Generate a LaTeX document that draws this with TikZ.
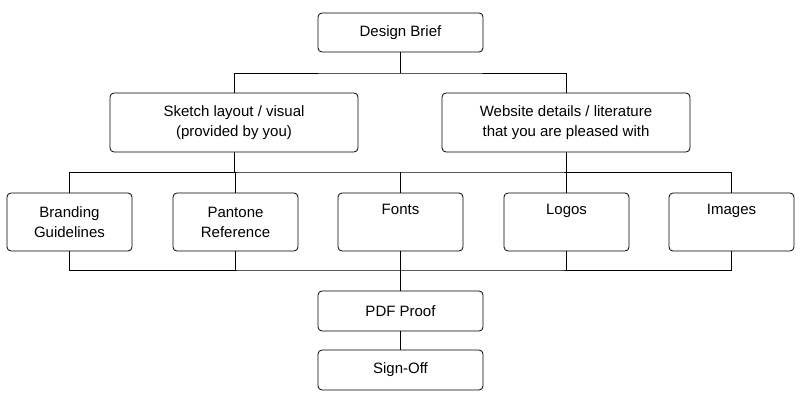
\documentclass[tikz,border=0pt]{standalone}
\usepackage{fontspec}
\setmainfont{Liberation Sans}
\begin{document}
\begin{tikzpicture}[x=1pt,y=-1pt,
  bx/.style={draw,thick,rounded corners=4pt,align=center,font=\fontsize{15}{20}\selectfont,inner sep=0pt},
  ln/.style={thick}]
\useasboundingbox (0,0) rectangle (800,406);
\node[bx,minimum width=165,minimum height=39] (db) at (400.5,32.5) {Design Brief};
\node[bx,minimum width=248,minimum height=59] (sk) at (234,122.5) {Sketch layout / visual\\(provided by you)};
\node[bx,minimum width=248,minimum height=59] (ws) at (566,122.5) {Website details / literature\\that you are pleased with};
\foreach \n/\x/\t in {br/69.5/{Branding\\Guidelines},pa/235.5/{Pantone\\Reference},fo/400.5/{Fonts\\\strut},lo/566.5/{Logos\\\strut},im/731.5/{Images\\\strut}}
  \node[bx,minimum width=125,minimum height=58] (\n) at (\x,222) {\t};
\node[bx,minimum width=165,minimum height=40] (pdf) at (400.5,311) {PDF Proof};
\node[bx,minimum width=165,minimum height=40] (so) at (400.5,370) {Sign-Off};
\coordinate (t1) at (400.5,73);
\draw[ln] (db.south) -- (t1);
\draw[ln] (sk.north) |- (t1) -| (ws.north);
\coordinate (t2) at (400.5,172);
\draw[ln] (sk.south) -- (sk.south|-t2);
\draw[ln] (ws.south) -- (ws.south|-t2);
\draw[ln] (br.north) |- (t2) -| (im.north);
\draw[ln] (pa.north) -- (pa.north|-t2);
\draw[ln] (fo.north) -- (fo.north|-t2);
\draw[ln] (lo.north) -- (lo.north|-t2);
\coordinate (t3) at (400.5,270);
\draw[ln] (br.south) |- (t3) -| (im.south);
\draw[ln] (pa.south) -- (pa.south|-t3);
\draw[ln] (fo.south) -- (pdf.north);
\draw[ln] (lo.south) -- (lo.south|-t3);
\draw[ln] (pdf.south) -- (so.north);
\end{tikzpicture}
\end{document}
